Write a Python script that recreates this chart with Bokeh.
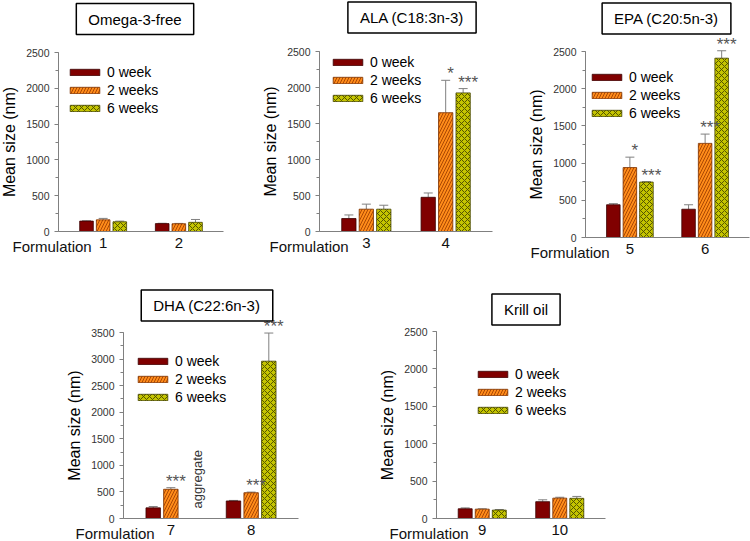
import math
from bokeh.plotting import figure
from bokeh.models import (Range1d, SingleIntervalTicker, FixedTicker, Legend, LegendItem,
                          Label, LabelSet, Whisker, TeeHead, ColumnDataSource)
from bokeh.core.properties import value
from bokeh.layouts import column, row
from bokeh.embed import file_html
from bokeh.resources import INLINE

NAN = float("nan")
week_labels = ["0 week", "2 weeks", "6 weeks"]

# ---- Omega-3-free (formulations 1, 2)
free_title = "Omega-3-free"
free_forms = [1, 2]
free_0w = [145, 110]
free_2w = [163, 108]
free_6w = [135, 128]
free_0w_err = [5, 5]
free_2w_err = [20, 5]
free_6w_err = [10, 40]
free_sig_2w = ["", ""]
free_sig_6w = ["", ""]

# ---- ALA (formulations 3, 4)
ala_title = "ALA (C18:3n-3)"
ala_forms = [3, 4]
ala_0w = [180, 475]
ala_2w = [310, 1650]
ala_6w = [310, 1925]
ala_0w_err = [50, 60]
ala_2w_err = [70, 450]
ala_6w_err = [55, 60]
ala_sig_2w = ["", "*"]
ala_sig_6w = ["", "***"]

# ---- EPA (formulations 5, 6)
epa_title = "EPA (C20:5n-3)"
epa_forms = [5, 6]
epa_0w = [440, 380]
epa_2w = [940, 1265]
epa_6w = [745, 2410]
epa_0w_err = [15, 60]
epa_2w_err = [140, 125]
epa_6w_err = [5, 100]
epa_sig_2w = ["*", "***"]
epa_sig_6w = ["***", "***"]

# ---- DHA (formulations 7, 8)
dha_title = "DHA (C22:6n-3)"
dha_forms = [7, 8]
dha_0w = [200, 330]
dha_2w = [550, 485]
dha_6w = [NAN, 2960]
dha_0w_err = [25, 10]
dha_2w_err = [30, 12]
dha_6w_err = [NAN, 530]
dha_sig_2w = ["***", "***"]
dha_sig_6w = ["", "***"]
dha_6w_note = ["aggregate", ""]

# ---- Krill oil (formulations 9, 10)
krill_title = "Krill oil"
krill_forms = [9, 10]
krill_0w = [130, 225]
krill_2w = [125, 272]
krill_6w = [112, 270]
krill_0w_err = [12, 25]
krill_2w_err = [5, 12]
krill_6w_err = [8, 25]
krill_sig_2w = ["", ""]
krill_sig_6w = ["", ""]

y_tops = [2500, 2500, 2500, 3500, 2500]

FONT = "Liberation Sans"
AXIS_GRAY = "#808080"
BAR_STYLES = [
    dict(fill_color="#800000", line_color="#3a0000"),
    dict(fill_color="#FF8C1A", line_color="#7a3000", hatch_pattern="/",
         hatch_color="#a04000", hatch_scale=6, hatch_weight=0.9),
    dict(fill_color="#C4C400", line_color="#404000", hatch_pattern="x",
         hatch_color="#4a4a00", hatch_scale=6, hatch_weight=0.9),
]
OFFSETS = [-0.22, 0.0, 0.22]
BAR_W = 0.18
PAD = 0.59


def make_panel(title, forms, means, errs, sigs, ymax, g, notes=None):
    fw, fh = g["fw"], g["fh"]
    L, R, T, B = g["mbl"], g["mbr"], g["mbt"], g["mbb"]
    W, H = L + fw + R, T + fh + B
    x0, x1 = forms[0] - PAD, forms[-1] + PAD
    u = (x1 - x0) / fw
    v = ymax / fh
    p = figure(width=W, height=H, min_border_left=0, min_border_right=0,
               min_border_top=0, min_border_bottom=0,
               x_range=Range1d(x0 - L * u, x1 + R * u),
               y_range=Range1d(-B * v, ymax + T * v), output_backend="svg",
               toolbar_location=None, tools="")
    p.outline_line_color = None
    p.grid.visible = False
    p.background_fill_color = "white"

    renderers = []
    wx, wl, wu = [], [], []
    sx, sy, st = [], [], []
    for k in range(3):
        xs = [c + OFFSETS[k] for c in forms]
        src = ColumnDataSource(dict(x=xs, top=means[k]))
        r = p.vbar(x="x", top="top", width=BAR_W, bottom=0, source=src,
                   line_width=0.8, **BAR_STYLES[k])
        renderers.append(r)
        for x, m, e, s in zip(xs, means[k], errs[k], sigs[k]):
            if not math.isnan(m):
                wx.append(x); wl.append(m); wu.append(m + e)
                if s:
                    sx.append(x); sy.append(m + e); st.append(s)

    wsrc = ColumnDataSource(dict(base=wx, lower=wl, upper=wu))
    p.add_layout(Whisker(source=wsrc, base="base", lower="lower", upper="upper",
                         dimension="height", line_color=AXIS_GRAY, line_width=1,
                         upper_head=TeeHead(size=9, line_color=AXIS_GRAY, line_width=1),
                         lower_head=None))
    if st:
        lsrc = ColumnDataSource(dict(x=sx, y=sy, text=st))
        p.add_layout(LabelSet(source=lsrc, x="x", y="y", text="text",
                              text_align="center", text_baseline="bottom",
                              x_offset=5, y_offset=-3, text_font=value(FONT),
                              text_font_size="17px", text_color="#555555"))
    if notes:
        for c, n in zip(forms, notes):
            if n:
                p.add_layout(Label(x=c + OFFSETS[2], y=0, text=n, angle=math.pi / 2,
                                   x_offset=9, y_offset=10, text_align="left",
                                   text_baseline="middle", text_font=FONT,
                                   text_font_size="13px", text_color="#333333"))

    legend = Legend(items=[LegendItem(label=week_labels[k], renderers=[renderers[k]])
                           for k in range(3)],
                    location=(L + g["lx"], B + g["ly"]), glyph_width=37, glyph_height=8,
                    label_height=18, label_standoff=4, spacing=0, padding=0, margin=0,
                    border_line_color=None, background_fill_alpha=0,
                    label_text_font=FONT, label_text_font_size="14px",
                    label_text_color="black")
    p.add_layout(legend, "center")

    yax = p.yaxis[0]
    yax.fixed_location = x0
    yax.bounds = (0, ymax)
    yax.ticker = SingleIntervalTicker(interval=500, num_minor_ticks=2)
    yax.axis_label = "Mean size (nm)"
    yax.axis_label_text_font = FONT
    yax.axis_label_text_font_size = "16px"
    yax.axis_label_text_font_style = "normal"
    yax.axis_label_text_color = "black"
    yax.axis_label_standoff = 5
    yax.major_label_text_font = FONT
    yax.major_label_text_font_size = "10.5px"
    yax.major_label_text_color = "#333333"
    yax.major_label_standoff = 5
    yax.major_tick_out = 4
    yax.major_tick_in = 0
    yax.minor_tick_out = 3
    yax.minor_tick_in = 0
    yax.axis_line_color = AXIS_GRAY
    yax.major_tick_line_color = AXIS_GRAY
    yax.minor_tick_line_color = AXIS_GRAY

    xax = p.xaxis[0]
    xax.fixed_location = 0
    xax.bounds = (x0, x1)
    xax.ticker = FixedTicker(ticks=list(forms))
    xax.major_tick_out = 0
    xax.major_tick_in = 0
    xax.minor_tick_out = 0
    xax.minor_tick_in = 0
    xax.major_label_standoff = 6
    xax.major_label_text_font = FONT
    xax.major_label_text_font_size = "15px"
    xax.major_label_text_color = "#111111"
    xax.axis_line_color = AXIS_GRAY

    p.add_layout(Label(x=L + g["fdx"], y=B - 6, x_units="screen", y_units="screen",
                       text="Formulation", text_align="left", text_baseline="top",
                       text_font=FONT, text_font_size="15px", text_color="#111111"))
    p.add_layout(Label(x=L + fw / 2 + g["tdx"], y=B + fh + g["tdy"], x_units="screen",
                       y_units="screen", text=title, text_align="center",
                       text_baseline="middle", text_font=FONT, text_font_size="15px",
                       text_color="black", border_line_color="black",
                       border_line_width=1.5, background_fill_color="white",
                       padding=dict(left=12, right=12, top=7, bottom=7)))
    return p


# frame geometry (pixels): left/right/top/bottom margins around each plotting area
g1 = dict(mbl=58, fw=165, mbr=37, mbt=52, fh=179, mbb=39, tdx=-6, tdy=33.5, fdx=-46, lx=8, ly=114)
g2 = dict(mbl=59, fw=173, mbr=28, mbt=51, fh=180, mbb=39, tdx=6, tdy=34, fdx=-50, lx=10, ly=124)
g3 = dict(mbl=65, fw=164, mbr=1, mbt=51, fh=186, mbb=33, tdx=-1, tdy=33, fdx=-55, lx=3, ly=115)
g4 = dict(mbl=123, fw=175, mbr=32, mbt=62, fh=186, mbb=22, tdx=-4, tdy=27, fdx=-48, lx=11, ly=112)
g5 = dict(mbl=106, fw=169, mbr=25, mbt=61, fh=187, mbb=22, tdx=5, tdy=22, fdx=-47, lx=38, ly=99)

p1 = make_panel(free_title, free_forms, [free_0w, free_2w, free_6w],
                [free_0w_err, free_2w_err, free_6w_err],
                [["", ""], free_sig_2w, free_sig_6w], y_tops[0], g1)
p2 = make_panel(ala_title, ala_forms, [ala_0w, ala_2w, ala_6w],
                [ala_0w_err, ala_2w_err, ala_6w_err],
                [["", ""], ala_sig_2w, ala_sig_6w], y_tops[1], g2)
p3 = make_panel(epa_title, epa_forms, [epa_0w, epa_2w, epa_6w],
                [epa_0w_err, epa_2w_err, epa_6w_err],
                [["", ""], epa_sig_2w, epa_sig_6w], y_tops[2], g3)
p4 = make_panel(dha_title, dha_forms, [dha_0w, dha_2w, dha_6w],
                [dha_0w_err, dha_2w_err, dha_6w_err],
                [["", ""], dha_sig_2w, dha_sig_6w], y_tops[3], g4, notes=dha_6w_note)
p5 = make_panel(krill_title, krill_forms, [krill_0w, krill_2w, krill_6w],
                [krill_0w_err, krill_2w_err, krill_6w_err],
                [["", ""], krill_sig_2w, krill_sig_6w], y_tops[4], g5)

layout = column(row(p1, p2, p3, spacing=0), row(p4, p5, spacing=0), spacing=0)
open("out.html", "w").write(file_html(layout, INLINE))
